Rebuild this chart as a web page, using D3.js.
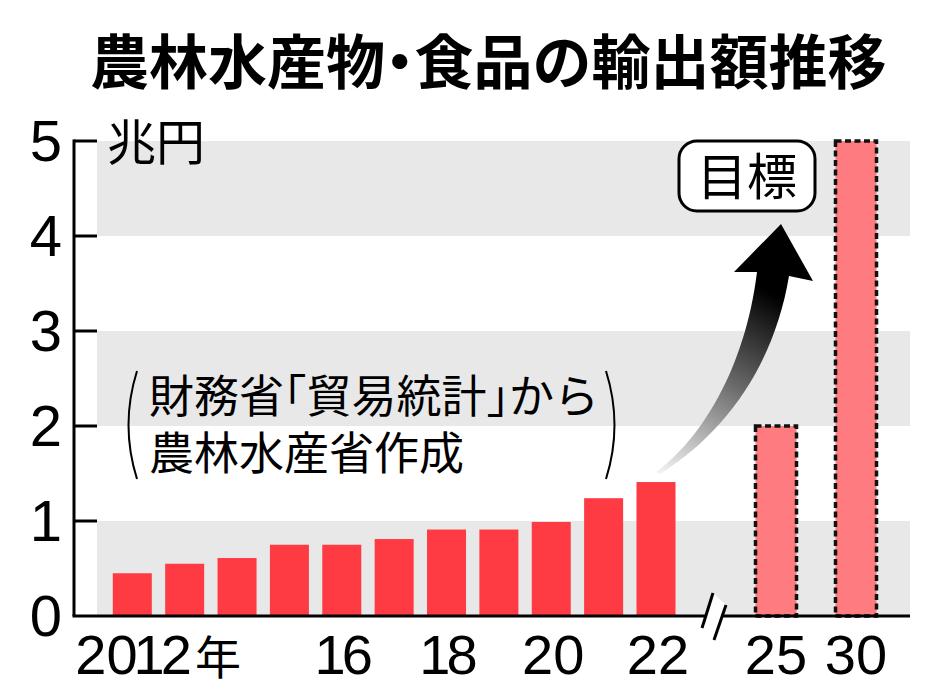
<!DOCTYPE html>
<html><head><meta charset="utf-8">
<script src="https://cdn.jsdelivr.net/npm/d3@7"></script>
<style>
body{margin:0;background:#fff}
svg{display:block}
.half{font-feature-settings:"halt" 1;}
</style>
</head><body><svg id="c" width="934" height="700"></svg>
<script>
// ---- data ----
const years = [2012,2013,2014,2015,2016,2017,2018,2019,2020,2021,2022];
const values = [0.45,0.55,0.61,0.75,0.75,0.81,0.91,0.91,0.99,1.24,1.41];
const targetLabels = ["25","30"];
const targetValues = [2,5];
const yTicks = [0,1,2,3,4,5];
const xTickYears = [2016,2018,2020,2022];
const firstYearLabel = ["2012","年"];
const titleParts = ["農林水産物","・","食品の輸出額推移"];
const unitText = "兆円";
const noteLines = ["財務省「貿易統計」から","農林水産省作成"];
const targetText = "目標";

const svg = d3.select("#c");
const CJK = "'Noto Sans CJK JP','Noto Sans CJK SC',sans-serif";
const NOTEF = "'Liberation Sans','Noto Sans CJK JP','Noto Sans CJK SC',sans-serif";
const NUM = "'Liberation Sans',Arial,sans-serif";
const NUMSIZE = 56;

const y = d3.scaleLinear().domain([0,5]).range([616,141]);
const x = d3.scaleLinear().domain([2012,2022]).range([132.3,656]);
const xt = d3.scalePoint().domain(targetLabels).range([776,856]);
const barW = 39, tBarW = 41;
const axisX = 74, bandX0 = 97, bandX1 = 910;

// digits helper: narrow "1" like the reference typeface
function digits(sel, str){
  const cs = [...str];
  cs.forEach((ch,i)=>{
    let ls = 0;
    if(ch==="1") ls -= 4;
    if(cs[i+1]==="1") ls -= 4;
    const t = sel.append("tspan").text(ch);
    if(ls) t.style("letter-spacing",ls+"px");
  });
}

// gray bands
svg.append("g").selectAll("rect").data([0,2,4]).join("rect")
  .attr("x",bandX0).attr("width",bandX1-bandX0)
  .attr("y",d=>y(d+1)).attr("height",d=>y(d)-y(d+1))
  .attr("fill","#e8e8e8");

// title (half-width middle dot)
const TS = 59;
const tt = svg.append("text").attr("x",90).attr("y",84)
  .style("font-family",CJK).style("font-weight",700).style("font-size",TS+"px");
tt.append("tspan").text(titleParts[0]);
tt.append("tspan").attr("class","half").text(titleParts[1]);
tt.append("tspan").text(titleParts[2]);

// unit
svg.append("text").attr("x",107).attr("y",160)
  .style("font-family",CJK).style("font-size","49px").style("font-weight",400)
  .text(unitText);

// bars
svg.append("g").selectAll("rect").data(years).join("rect")
  .attr("x",(d)=>x(d)-barW/2).attr("width",barW)
  .attr("y",(d,i)=>y(values[i])).attr("height",(d,i)=>y(0)-y(values[i]))
  .attr("fill","#fe3a43");

// target bars
svg.append("g").selectAll("rect").data(targetLabels).join("rect")
  .attr("x",d=>xt(d)-tBarW/2).attr("width",tBarW)
  .attr("y",(d,i)=>y(targetValues[i])).attr("height",(d,i)=>y(0)-y(targetValues[i]))
  .attr("fill","#fe7b7f").attr("stroke","#111").attr("stroke-width",3.5)
  .attr("stroke-dasharray","6,3.5");

// y axis
const yAxis = svg.append("g");
yAxis.append("line").attr("x1",axisX).attr("x2",axisX).attr("y1",y(5)-1.5).attr("y2",y(0))
  .attr("stroke","#000").attr("stroke-width",3);
yAxis.selectAll(".tk").data(yTicks.filter(d=>d>0)).join("line").attr("class","tk")
  .attr("x1",axisX).attr("x2",bandX0).attr("y1",d=>y(d)).attr("y2",d=>y(d))
  .attr("stroke","#000").attr("stroke-width",3);
yAxis.selectAll("text").data(yTicks).join("text")
  .attr("x",62).attr("y",d=>y(d)+20).attr("text-anchor","end")
  .style("font-family",NUM).style("font-size","58px").text(d=>d);

// baseline
svg.append("line").attr("x1",axisX-1.5).attr("x2",bandX1).attr("y1",y(0)).attr("y2",y(0))
  .attr("stroke","#000").attr("stroke-width",3);

// axis break
const bx = (x(2022)+xt("25"))/2 - 2;
svg.append("path")
  .attr("d",`M${bx-1},${593} L${bx+12},${605} L${bx},${640} L${bx-13},${628}Z`)
  .attr("fill","#fff");
svg.append("g").selectAll("line").data([0,1]).join("line")
  .attr("x1",d=>bx-1+d*13).attr("y1",d=>593+d*12)
  .attr("x2",d=>bx-12+d*12).attr("y2",d=>628+d*12)
  .attr("stroke","#000").attr("stroke-width",3);

// x labels
const xl = svg.append("g").style("font-family",NUM).style("font-size",NUMSIZE+"px");
const first = xl.append("text").attr("x",x(2012)-57).attr("y",674);
digits(first, firstYearLabel[0]);
first.append("tspan").attr("dx",3).style("font-family",CJK).style("font-size","46px").text(firstYearLabel[1]);
xl.selectAll(".yr").data(xTickYears).join("text").attr("class","yr")
  .attr("x",d=>x(d)+2).attr("y",674).attr("text-anchor","middle")
  .each(function(d){ digits(d3.select(this), String(d).slice(2)); });
xl.selectAll(".tg").data(targetLabels).join("text").attr("class","tg")
  .attr("x",d=>xt(d)).attr("y",674).attr("text-anchor","middle").text(d=>d);

// note: two lines
svg.append("g").selectAll("text").data(noteLines).join("text")
  .attr("class","half")
  .attr("x",149).attr("y",(d,i)=>413+i*57)
  .style("font-family",NOTEF).style("font-size","45px")
  .text(d=>d);
svg.append("path").attr("d","M137,371 Q120,425 137,479").attr("fill","none")
  .attr("stroke","#000").attr("stroke-width",2);
svg.append("path").attr("d","M606,371 Q623,425 606,479").attr("fill","none")
  .attr("stroke","#000").attr("stroke-width",2);

// arrow
const defs = svg.append("defs");
const gr = defs.append("linearGradient").attr("id","ag").attr("gradientUnits","userSpaceOnUse")
  .attr("x1",660).attr("y1",472).attr("x2",765).attr("y2",290);
gr.append("stop").attr("offset",0).attr("stop-color","#f2f2f2");
gr.append("stop").attr("offset",0.55).attr("stop-color","#666");
gr.append("stop").attr("offset",1).attr("stop-color","#000");
svg.append("path")
  .attr("d","M656,472 C700,440 745,370 757,272 L734,272 L781,224 L813,281 L789,276 C775,360 730,430 660,474 Z")
  .attr("fill","url(#ag)");

// target box
svg.append("rect").attr("x",679).attr("y",141).attr("width",136).attr("height",70)
  .attr("rx",18).attr("fill","#fff").attr("stroke","#000").attr("stroke-width",3);
svg.append("text").attr("x",747).attr("y",195).attr("text-anchor","middle")
  .style("font-family",CJK).style("font-size","50px").text(targetText);
</script></body></html>
